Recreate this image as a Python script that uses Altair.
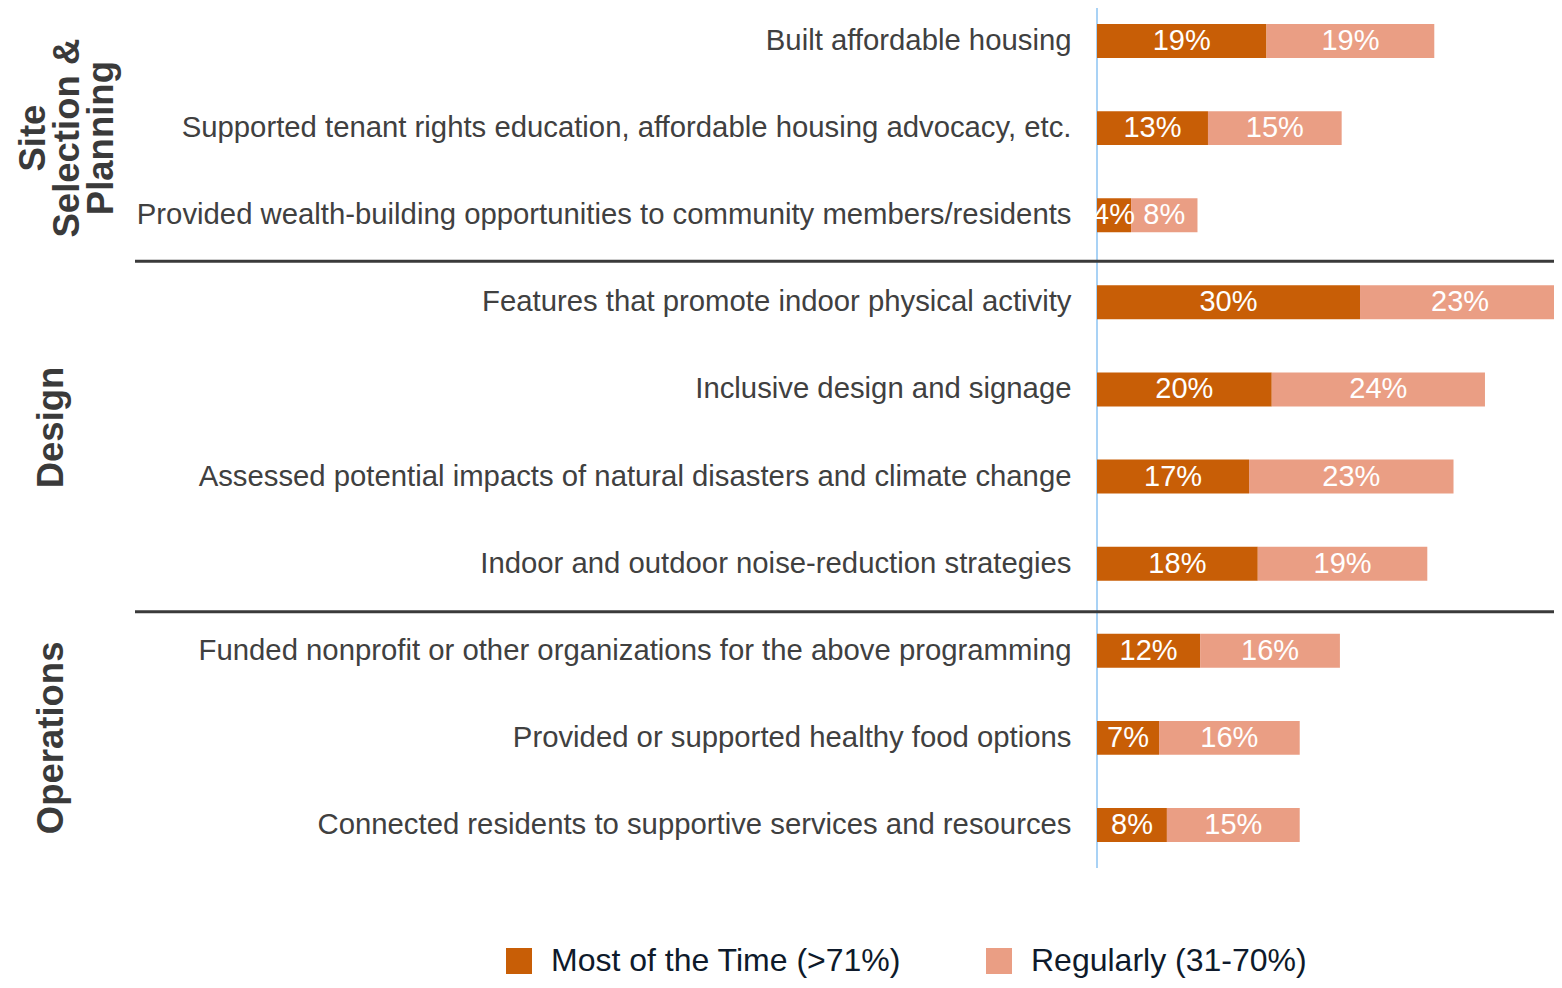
import altair as alt
import pandas as pd

categories = [
    "Built affordable housing",
    "Supported tenant rights education, affordable housing advocacy, etc.",
    "Provided wealth-building opportunities to community members/residents",
    "Features that promote indoor physical activity",
    "Inclusive design and signage",
    "Assessed potential impacts of natural disasters and climate change",
    "Indoor and outdoor noise-reduction strategies",
    "Funded nonprofit or other organizations for the above programming",
    "Provided or supported healthy food options",
    "Connected residents to supportive services and resources",
]
most_of_time = [19.4, 12.7, 3.9, 30.1, 20.0, 17.4, 18.4, 11.8, 7.1, 8.0]
regularly = [19.2, 15.3, 7.6, 22.9, 24.4, 23.4, 19.4, 16.0, 16.1, 15.2]
series_names = ["Most of the Time (>71%)", "Regularly (31-70%)"]
series_colors = ["#C85E06", "#EA9E84"]

group_labels = [["Site", "Selection &", "Planning"], ["Design"], ["Operations"]]
group_anchor = [categories[1], categories[4], categories[8]]
group_shift = [10, 38, 0]
group_xpos = [-1063, -1045, -1045]
separator_rows = [categories[3], categories[7]]
separator_shift = [-41, -39]

FONT = "Liberation Sans"

rows = []
for i, c in enumerate(categories):
    rows.append({"category": c, "series": series_names[0], "value": most_of_time[i], "order": 0})
    rows.append({"category": c, "series": series_names[1], "value": regularly[i], "order": 1})
df = pd.DataFrame(rows)

xscale = alt.Scale(domain=[0, 52.3], nice=False, zero=True)
yscale = alt.Scale(paddingInner=0.61, paddingOuter=0.184)
y_axis = alt.Axis(title=None, labelFontSize=29.3, labelFont=FONT, labelColor="#404040",
                  labelPadding=26, labelLimit=1100, ticks=False, domain=False, grid=False)
y_enc = alt.Y("category:N", sort=categories, scale=yscale, axis=y_axis)

base = alt.Chart(df).transform_stack(
    stack="value", groupby=["category"], as_=["x0", "x1"],
    sort=[alt.SortField("order", order="ascending")]
).transform_calculate(
    mid="(datum.x0 + datum.x1) / 2",
    label="format(datum.value, '.0f') + '%'"
)

bars = base.mark_bar().encode(
    y=y_enc,
    x=alt.X("x0:Q", scale=xscale, axis=None),
    x2="x1:Q",
    color=alt.Color("series:N", scale=alt.Scale(domain=series_names, range=series_colors),
                    legend=alt.Legend(orient="none", legendX=-594, legendY=937,
                                      direction="horizontal", title=None,
                                      symbolType="square", symbolSize=676,
                                      symbolStrokeWidth=0, symbolOpacity=1,
                                      labelFontSize=32, labelFont=FONT,
                                      labelColor="#0E1A2B", labelOffset=16,
                                      columnPadding=81, padding=0, labelLimit=600)),
)

texts = base.mark_text(color="white", fontSize=29, font=FONT, baseline="middle").encode(
    y=y_enc,
    x=alt.X("mid:Q", scale=xscale, axis=None),
    text="label:N",
)

blue = alt.Chart(pd.DataFrame({"v": [0]})).mark_rule(color="#A9D2F5", strokeWidth=2).encode(
    x=alt.X("v:Q", scale=xscale, axis=None),
    y=alt.value(0),
    y2=alt.value(860),
)

sep_layers = []
for row, sh in zip(separator_rows, separator_shift):
    s = alt.Chart(pd.DataFrame({"category": [row]})).mark_rule(
        color="#3A3A3A", strokeWidth=3, yOffset=sh
    ).encode(
        y=y_enc,
        x=alt.value(-962),
        x2=alt.value(470),
    )
    sep_layers.append(s)

group_layers = []
for lab, anc, sh, xp in zip(group_labels, group_anchor, group_shift, group_xpos):
    g = alt.Chart(pd.DataFrame({"category": [anc], "label": [lab]})).mark_text(
        angle=270, align="center", baseline="middle", fontSize=36.5, fontWeight="bold",
        font=FONT, color="#3A3A3A", lineHeight=34, yOffset=sh
    ).encode(
        y=y_enc,
        x=alt.value(xp),
        text="label",
    )
    group_layers.append(g)

chart = alt.layer(blue, bars, texts, *sep_layers, *group_layers).properties(
    width=457, height=850,
    autosize=alt.AutoSizeParams(type="none"),
    padding={"left": 1089, "top": 0, "right": 0, "bottom": 122},
).configure_view(stroke=None)

chart.save("out.html", embed_options={"renderer": "svg", "actions": False})
